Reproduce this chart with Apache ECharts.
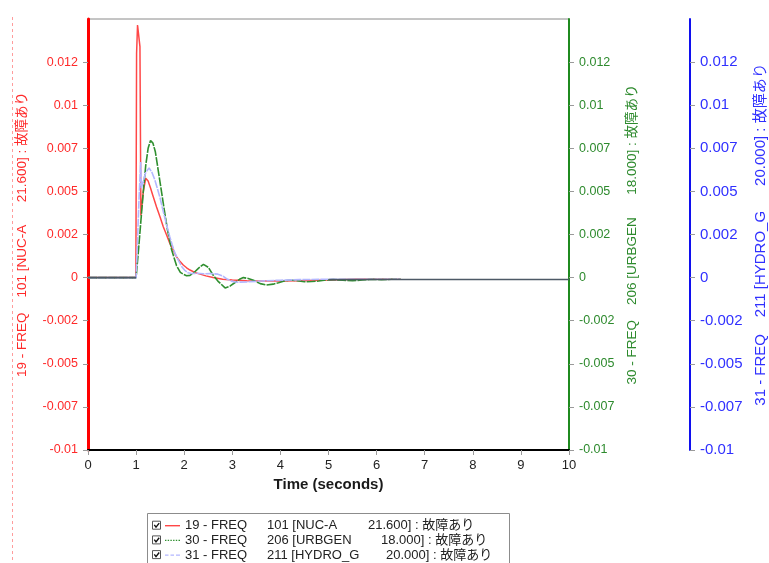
<!DOCTYPE html>
<html>
<head>
<meta charset="utf-8">
<script src="https://cdn.jsdelivr.net/npm/echarts@6/dist/echarts.min.js"></script>
<style>
  html, body { margin: 0; padding: 0; background: #ffffff; }
  #chart { width: 769px; height: 563px; }
</style>
</head>
<body>
<div id="chart"></div>
<script>
// Bus frequency deviation after a fault at t = 1 s (three generator buses)

const channelIds = ['19 - FREQ', '30 - FREQ', '31 - FREQ'];
const busNames = ['101 [NUC-A', '206 [URBGEN', '211 [HYDRO_G'];
const baseKv = ['21.600]', '18.000]', '20.000]'];
const caseTag = '故障あり';

const xTicks = { min: 0, max: 10, interval: 1 };
const yTicks = { min: -0.01, max: 0.015, interval: 0.0025 };

// 19 - FREQ, bus 101 NUC-A
const timeNuc = [0, 0.995, 1.01, 1.03, 1.08, 1.1, 1.12, 1.15, 1.2, 1.25, 1.3, 1.35, 1.425, 1.5, 1.565, 1.63, 1.7, 1.77, 1.84, 1.91, 1.98, 2.05, 2.12, 2.22, 2.33, 2.45, 2.6, 2.8, 3.0, 3.3, 3.6, 4.0, 4.4, 4.8, 5.2, 5.6, 6.0, 6.5];
const freqNuc = [0, 0, 0.0130, 0.01465, 0.0134, 0.0036, 0.0042, 0.0050, 0.00576, 0.0056, 0.0052, 0.00475, 0.0041, 0.0035, 0.00295, 0.0025, 0.0020, 0.0016, 0.0012, 0.00095, 0.00073, 0.00057, 0.00044, 0.0003, 0.0002, 0.0001, 0, -0.0001, -0.00014, -0.00018, -0.0002, -0.0002, -0.00018, -0.00015, -0.00012, -0.0001, -0.0001, -0.0001];

// 30 - FREQ, bus 206 URBGEN
const timeUrb = [0, 1.0, 1.05, 1.1, 1.15, 1.2, 1.25, 1.3, 1.35, 1.4, 1.45, 1.5, 1.565, 1.65, 1.74, 1.84, 1.92, 1.98, 2.05, 2.12, 2.2, 2.3, 2.4, 2.5, 2.6, 2.7, 2.85, 2.95, 3.05, 3.15, 3.23, 3.33, 3.44, 3.58, 3.71, 3.85, 3.96, 4.08, 4.2, 4.35, 4.5, 4.65, 4.8, 4.95, 5.1, 5.3, 5.5, 5.7, 5.9, 6.1, 6.3, 6.5];
const freqUrb = [0, 0, 0.0016, 0.0033, 0.0050, 0.0065, 0.0075, 0.00795, 0.0078, 0.0073, 0.0064, 0.0055, 0.0043, 0.0028, 0.0016, 0.0007, 0.0003, 0.0002, 0.00011, 0.00013, 0.00028, 0.00055, 0.00077, 0.0006, 0.00015, -0.0002, -0.0006, -0.0005, -0.0003, -0.0001, 0, -0.00005, -0.00015, -0.00035, -0.00043, -0.00038, -0.0003, -0.0002, -0.00014, -0.00018, -0.00024, -0.00023, -0.0002, -0.00014, -0.00012, -0.00015, -0.00018, -0.00014, -0.0001, -0.00012, -0.0001, -0.0001];

// 31 - FREQ, bus 211 HYDRO_G
const timeHyd = [0, 1.0, 1.03, 1.06, 1.095, 1.11, 1.15, 1.2, 1.27, 1.33, 1.39, 1.45, 1.5, 1.55, 1.6, 1.65, 1.7, 1.75, 1.81, 1.88, 1.95, 2.02, 2.08, 2.15, 2.26, 2.4, 2.54, 2.7, 2.8, 2.9, 3.0, 3.1, 3.3, 3.6, 4.0, 4.4, 4.8, 5.2, 5.6, 6.0, 6.5];
const freqHyd = [0, 0, 0.0022, 0.0045, 0.0067, 0.0052, 0.0056, 0.0061, 0.00636, 0.0061, 0.00566, 0.0051, 0.0046, 0.0040, 0.00344, 0.0029, 0.00237, 0.0019, 0.0014, 0.0010, 0.00063, 0.0004, 0.00028, 0.00024, 0.00025, 0.00022, 0.00024, 0.0002, 0.0001, -0.0001, -0.00022, -0.00027, -0.00025, -0.0002, -0.00015, -0.00012, -0.0001, -0.0001, -0.0001, -0.0001, -0.0001];

// common pre-fault / settled trace
const timeBase = [0, 1.0, 1.0, 5.0, 6.0, 7.0, 8.0, 10.0];
const freqBase = [0, 0, null, -0.00012, -0.00011, -0.00011, -0.00011, -0.00011];

const FONT = "'Liberation Sans', 'Noto Sans CJK JP', sans-serif";

function pairs(t, v) {
  return t.map((x, i) => [x, v[i] === null ? '-' : v[i]]);
}
function channelName(i) {
  return channelIds[i] + '    ' + busNames[i] + '      ' + baseKv[i] + ' : ' + caseTag;
}
function tickText(v) {
  const s = v < 0 ? -1 : 1;
  const t = s * Math.floor(Math.abs(v) * 1000 + 1e-6) / 1000;
  return String(Number(t.toFixed(3)));
}

const names = [0, 1, 2].map(channelName);
const colors = {
  nucLine: '#ff4747', nucAxis: '#ff0000', nucText: '#ff2a2a',
  urbLine: '#2f8f2f', urbAxis: '#1f8a1f', urbText: '#2d8a2d',
  hydLine: '#b3b7ff', hydAxis: '#1010ee', hydText: '#3030ff',
  base: '#4d5966'
};

// legend swatches: solid, dotted and dashed strokes
const swatchSolid = 'path://M0,0H15V1.4H0Z';
const swatchDotted = 'path://M0,0h1.4v1.4h-1.4z M2.7,0h1.4v1.4h-1.4z M5.4,0h1.4v1.4h-1.4z M8.1,0h1.4v1.4h-1.4z M10.8,0h1.4v1.4h-1.4z M13.5,0h1.5v1.4h-1.5z';
const swatchDashed = 'path://M0,0h3.5v1.4h-3.5z M5.5,0h3.5v1.4h-3.5z M11,0h4v1.4h-4z';
const swatches = [swatchSolid, swatchDotted, swatchDashed];
const lineColors = [colors.nucLine, colors.urbLine, colors.hydLine];

function yAxisCfg(opts) {
  return {
    type: 'value',
    min: yTicks.min, max: yTicks.max, interval: yTicks.interval,
    position: opts.position, offset: opts.offset || 0,
    name: opts.name, nameLocation: 'middle', nameRotate: 90, nameGap: opts.nameGap,
    nameTextStyle: { color: opts.nameColor, fontSize: opts.nameSize, fontFamily: FONT },
    axisLine: { show: true, onZero: false, lineStyle: { color: opts.axisColor, width: opts.lineWidth } },
    axisTick: { show: true, length: 5, lineStyle: { color: '#9a9a9a' } },
    axisLabel: { color: opts.labelColor, fontSize: opts.labelSize, fontFamily: FONT, margin: 10,
                 showMaxLabel: false, formatter: tickText },
    splitLine: { show: false }
  };
}

const chart = echarts.init(document.getElementById('chart'), null, { renderer: 'canvas' });

const checkRows = [525.7, 540.4, 555.1];
const graphics = [
  { type: 'line', silent: true, z: 0,
    shape: { x1: 12.5, y1: 17, x2: 12.5, y2: 563 },
    style: { stroke: '#ff9c9c', lineWidth: 1, lineDash: [3, 3] } },
  { type: 'rect', silent: true, z: 0,
    shape: { x: 147.5, y: 513.5, width: 362, height: 62 },
    style: { fill: '#ffffff', stroke: '#8c8c8c', lineWidth: 1 } }
];
checkRows.forEach(function (cy) {
  graphics.push({ type: 'rect', silent: true, z: 1,
    shape: { x: 152.5, y: cy - 4.5, width: 8, height: 8 },
    style: { fill: '#ffffff', stroke: '#555555', lineWidth: 1 } });
  graphics.push({ type: 'polyline', silent: true, z: 2,
    shape: { points: [[154.3, cy - 0.8], [156, cy + 1.5], [159.2, cy - 2.6]] },
    style: { fill: null, stroke: '#111111', lineWidth: 1.4 } });
});

const option = {
  backgroundColor: '#ffffff',
  animation: false,
  textStyle: { fontFamily: FONT },
  grid: { left: 88, right: 200, top: 19, bottom: 113, containLabel: false, outerBoundsMode: 'none',
          show: true, borderColor: '#8a8a8a', borderWidth: 1 },
  graphic: graphics,
  legend: {
    orient: 'vertical', left: 165, top: 518.7, padding: 0,
    itemWidth: 15, itemHeight: 1.4, itemGap: 0.7,
    selectedMode: false,
    data: names.map((n, i) => ({ name: n, icon: swatches[i], itemStyle: { color: lineColors[i], borderWidth: 0 } })),
    formatter: function (name) {
      const i = names.indexOf(name);
      return '{a|' + channelIds[i] + '}{b' + i + '|' + busNames[i] + '}{c|' + baseKv[i] + ' : ' + caseTag + '}';
    },
    textStyle: {
      fontSize: 13, color: '#222222', fontFamily: FONT, lineHeight: 14,
      rich: {
        a: { width: 82, fontSize: 13, color: '#222222', fontFamily: FONT },
        b0: { width: 101, fontSize: 13, color: '#222222', fontFamily: FONT },
        b1: { width: 114, fontSize: 13, color: '#222222', fontFamily: FONT },
        b2: { width: 119, fontSize: 13, color: '#222222', fontFamily: FONT },
        c: { fontSize: 13, color: '#222222', fontFamily: FONT }
      }
    }
  },
  xAxis: {
    type: 'value', min: xTicks.min, max: xTicks.max, interval: xTicks.interval,
    name: 'Time (seconds)', nameLocation: 'middle', nameGap: 25,
    nameTextStyle: { color: '#1a1a1a', fontSize: 15, fontWeight: 'bold', fontFamily: FONT },
    axisLine: { onZero: false, lineStyle: { color: '#000000', width: 2 } },
    axisTick: { show: true, length: 5, lineStyle: { color: '#9a9a9a' } },
    axisLabel: { color: '#222222', fontSize: 13, fontFamily: FONT, margin: 9 },
    splitLine: { show: false }
  },
  yAxis: [
    yAxisCfg({ position: 'left', name: names[0], nameGap: 59, nameColor: colors.nucText, nameSize: 13.5,
               axisColor: colors.nucAxis, lineWidth: 3, labelColor: colors.nucText, labelSize: 12.5 }),
    yAxisCfg({ position: 'right', name: names[1], nameGap: 55, nameColor: colors.urbText, nameSize: 13.5,
               axisColor: colors.urbAxis, lineWidth: 2, labelColor: colors.urbText, labelSize: 12.5 }),
    yAxisCfg({ position: 'right', offset: 121, name: names[2], nameGap: 62, nameColor: colors.hydText, nameSize: 15,
               axisColor: colors.hydAxis, lineWidth: 2, labelColor: colors.hydText, labelSize: 15 })
  ],
  series: [
    { name: names[0], type: 'line', yAxisIndex: 0, showSymbol: false, symbol: 'none',
      data: pairs(timeNuc, freqNuc),
      lineStyle: { color: colors.nucLine, width: 1.5 }, itemStyle: { color: colors.nucLine } },
    { name: names[1], type: 'line', yAxisIndex: 1, showSymbol: false, symbol: 'none',
      data: pairs(timeUrb, freqUrb),
      lineStyle: { color: colors.urbLine, width: 1.6, type: [9, 1.2] }, itemStyle: { color: colors.urbLine } },
    { name: names[2], type: 'line', yAxisIndex: 2, showSymbol: false, symbol: 'none',
      data: pairs(timeHyd, freqHyd),
      lineStyle: { color: colors.hydLine, width: 1.6, type: [8, 1] }, itemStyle: { color: colors.hydLine } },
    { name: 'base', type: 'line', yAxisIndex: 0, showSymbol: false, symbol: 'none', connectNulls: false,
      data: pairs(timeBase, freqBase),
      lineStyle: { color: colors.base, width: 1.6 }, itemStyle: { color: colors.base } }
  ]
};

chart.setOption(option);
</script>
</body>
</html>
